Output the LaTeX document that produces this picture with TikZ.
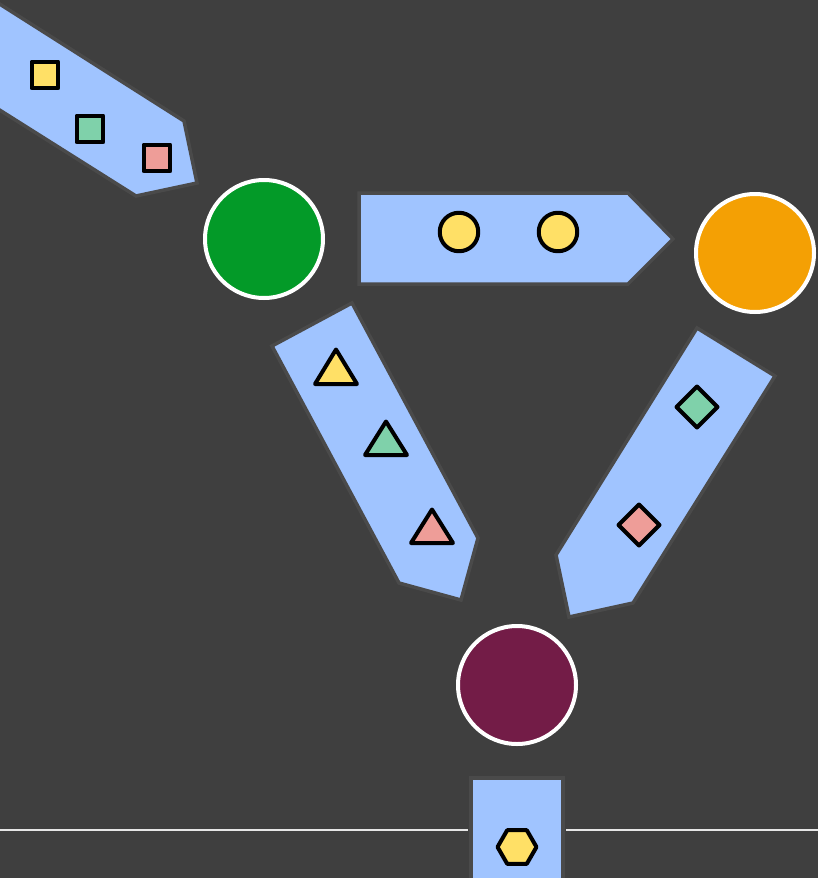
\documentclass[tikz,border=0pt]{standalone}
\usetikzlibrary{shapes.geometric}
\definecolor{bg}{HTML}{3F3F3F}
\definecolor{bandfill}{HTML}{A0C4FF}
\definecolor{bandline}{HTML}{4A4A4A}
\definecolor{tokyellow}{HTML}{FFE066}
\definecolor{tokmint}{HTML}{7FD1AA}
\definecolor{tokpink}{HTML}{EE9D98}
\definecolor{hubgreen}{HTML}{039A28}
\definecolor{huborange}{HTML}{F4A004}
\definecolor{hubpurple}{HTML}{731C47}
\definecolor{rule}{HTML}{E6E6E6}
\tikzset{
  band/.style={fill=bandfill, draw=bandline, line width=3.5pt, line join=miter},
  hub/.style={circle, draw=white, line width=4pt, minimum size=118pt, inner sep=0pt},
  token/.style={draw=black, line width=4pt, line join=round},
  sqtoken/.style={token, rectangle, minimum size=26.5pt, inner sep=0pt},
  dottoken/.style={token, circle, minimum size=38.5pt, inner sep=0pt, fill=tokyellow},
}
\begin{document}
\begin{tikzpicture}[x=1pt, y=-1pt]
\useasboundingbox (0,0) rectangle (818,878);
\fill[bg] (0,0) rectangle (818,878);
\clip (0,0) rectangle (818,878);

% horizontal rule
\coordinate (rl0) at (0,830);
\coordinate (rl1) at (468,830);
\coordinate (rr0) at (566,830);
\coordinate (rr1) at (818,830);
\draw[rule, line width=2pt] (rl0) -- (rl1);
\draw[rule, line width=2pt] (rr0) -- (rr1);

% bands
\draw[band] (-2,3) -- (184,121) -- (197,183) -- (136,196) -- (-2,109) -- cycle;
\draw[band] (359,193) -- (628,193) -- (673,239) -- (628,284) -- (359,284) -- cycle;
\draw[band] (272,346) -- (352,303) -- (478,538) -- (461,600) -- (399,583) -- cycle;
\draw[band] (697,328) -- (775,376) -- (633,603) -- (569,617) -- (556,555) -- cycle;
\draw[band] (471,885) -- (471,778) -- (563,778) -- (563,885);

% hubs
\node[hub, fill=hubgreen] (green) at (264,239) {};
\node[hub, fill=huborange] (orange) at (755,253) {};
\node[hub, fill=hubpurple] (purple) at (517,685) {};

% squares
\node[sqtoken, fill=tokyellow] (sq1) at (45,75) {};
\node[sqtoken, fill=tokmint] (sq2) at (90,129) {};
\node[sqtoken, fill=tokpink] (sq3) at (157,158) {};

% dots
\node[dottoken] (d1) at (459,232) {};
\node[dottoken] (d2) at (558,232) {};

% triangles
\draw[token, fill=tokyellow] (336,349.5) -- (315,384) -- (357,384) -- cycle;
\draw[token, fill=tokmint] (386,421.5) -- (365,455) -- (407,455) -- cycle;
\draw[token, fill=tokpink] (432,509.5) -- (411,543) -- (453,543) -- cycle;

% diamonds
\draw[token, fill=tokmint] (697,386.5) -- (717.5,407) -- (697,427.5) -- (676.5,407) -- cycle;
\draw[token, fill=tokpink] (639,504.5) -- (659.5,525) -- (639,545.5) -- (618.5,525) -- cycle;

% hexagon
\draw[token, fill=tokyellow] (497.5,847) -- (507.2,830.2) -- (526.8,830.2) -- (536.5,847) -- (526.8,863.8) -- (507.2,863.8) -- cycle;
\end{tikzpicture}
\end{document}
